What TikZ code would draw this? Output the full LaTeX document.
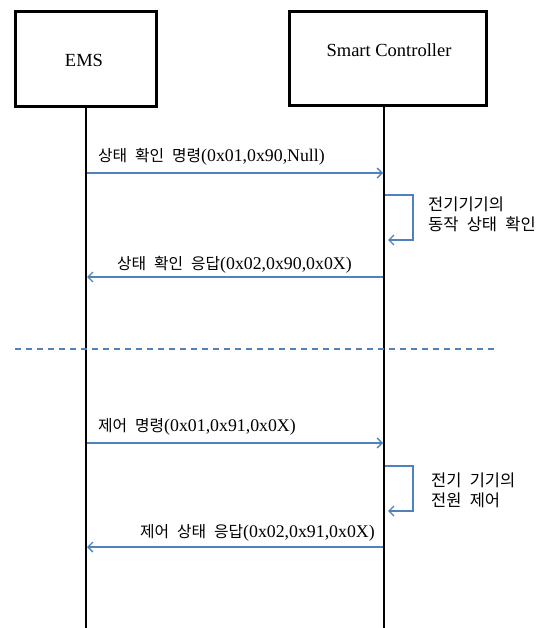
\documentclass[tikz,border=0pt]{standalone}
\usepackage{fontspec}
\setmainfont{Liberation Serif}
\newfontfamily\krfont{Noto Sans CJK KR}
\usetikzlibrary{arrows.meta}
\definecolor{msgblue}{RGB}{79,129,189}
\newcommand\kr[1]{{\krfont\fontsize{15.8}{18}\selectfont\spaceskip=0.5em\relax #1}}
\newcommand\krn[1]{{\krfont\fontsize{16.5}{20}\selectfont\spaceskip=0.5em\relax #1}}
\tikzset{
  actorbox/.style={draw=black, line width=3pt, fill=white, inner sep=0pt},
  actortext/.style={font=\fontsize{18.5}{22}\selectfont, inner sep=0pt},
  lifeline/.style={draw=black, line width=2.5pt},
  msg/.style={draw=msgblue, line width=1.4pt, -{Straight Barb[length=5pt,width=10pt,line width=1.4pt]}},
  msglabel/.style={anchor=west, inner sep=0pt, font=\fontsize{17.8}{20}\selectfont},
  notelabel/.style={anchor=north west, inner sep=0pt, align=left, font=\fontsize{16.5}{20}\selectfont},
  sep/.style={draw=msgblue, line width=1.6pt, dash pattern=on 6pt off 5pt}
}
\begin{document}
\begin{tikzpicture}[x=1pt,y=-1pt]
\useasboundingbox (0,0) rectangle (547,628);
% actor boxes
\node[actorbox, minimum width=141pt, minimum height=95pt] (ems) at (85.5,59.5) {};
\node[actortext] (emst) at (84,60) {EMS};
\node[actorbox, minimum width=197pt, minimum height=94pt] (sc) at (387.5,59) {};
\node[actortext] (sct) at (389,50) {Smart Controller};
% lifelines
\coordinate (emsTop) at (86,107);
\coordinate (emsBot) at (86,628);
\coordinate (scTop) at (384,106);
\coordinate (scBot) at (384,628);
\draw[lifeline] (emsTop) -- (emsBot);
\draw[lifeline] (scTop) -- (scBot);
% message points
\coordinate (m1a) at (87,173);  \coordinate (m1b) at (383,173);
\coordinate (m2a) at (383,277); \coordinate (m2b) at (87,277);
\coordinate (m3a) at (87,443);  \coordinate (m3b) at (383,443);
\coordinate (m4a) at (383,547); \coordinate (m4b) at (87,547);
\draw[msg] (m1a) -- (m1b);
\draw[msg] (m2a) -- (m2b);
\draw[msg] (m3a) -- (m3b);
\draw[msg] (m4a) -- (m4b);
% self loops
\coordinate (l1a) at (385,195); \coordinate (l1b) at (388,240);
\coordinate (l2a) at (385,466); \coordinate (l2b) at (388,511);
\draw[msg] (l1a) -- (413,195) -- (413,240) -- (l1b);
\draw[msg] (l2a) -- (413,466) -- (413,511) -- (l2b);
% labels
\node[msglabel] (t1) at (98,157) {\kr{상태 확인 명령}(0x01,0x90,Null)};
\node[msglabel] (t2) at (117,265) {\kr{상태 확인 응답}(0x02,0x90,0x0X)};
\node[msglabel] (t3) at (98,427) {\kr{제어 명령}(0x01,0x91,0x0X)};
\node[msglabel] (t4) at (140,533) {\kr{제어 상태 응답}(0x02,0x91,0x0X)};
\node[notelabel] (n1) at (428,197) {\krn{전기기기의}\\\krn{동작 상태 확인}};
\node[notelabel] (n2) at (431,473) {\krn{전기 기기의}\\\krn{전원 제어}};
% separator
\coordinate (sepL) at (15,349);
\coordinate (sepR) at (497,349);
\draw[sep] (sepL) -- (sepR);
\end{tikzpicture}
\end{document}
